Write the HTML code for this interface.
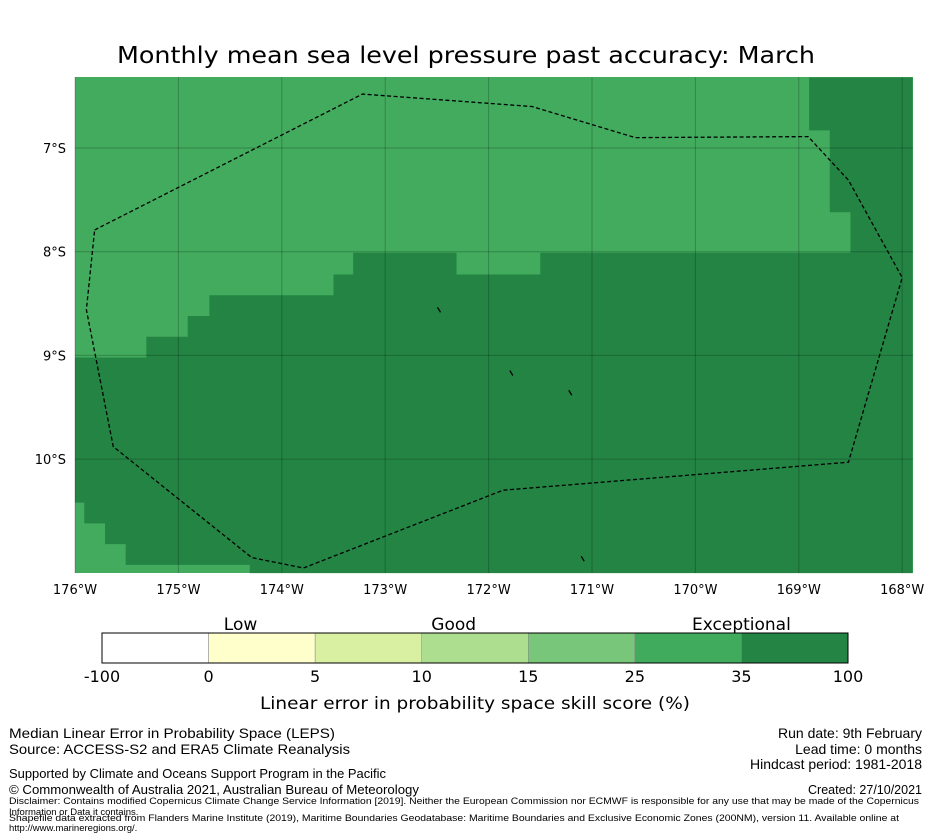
<!DOCTYPE html>
<html><head><meta charset="utf-8"><style>html,body{margin:0;padding:0;background:#fff}svg{display:block;font-family:"DejaVu Sans","Liberation Sans",sans-serif}</style></head>
<body>
<svg id="fig" width="931" height="839" viewBox="0 0 931 839" xmlns="http://www.w3.org/2000/svg">
<text x="466" y="63" text-anchor="middle" font-size="23" textLength="698" lengthAdjust="spacingAndGlyphs">Monthly mean sea level pressure past accuracy: March</text>
<g id="map"></g>
<g id="axes"></g>
<g id="cbar"></g>
<text x="475" y="709" text-anchor="middle" font-size="17" textLength="430" lengthAdjust="spacingAndGlyphs">Linear error in probability space skill score (%)</text>
<g font-family="Liberation Sans, sans-serif">
<text x="9" y="738" font-size="14" textLength="326" lengthAdjust="spacingAndGlyphs">Median Linear Error in Probability Space (LEPS)</text>
<text x="9" y="754" font-size="14" textLength="341" lengthAdjust="spacingAndGlyphs">Source: ACCESS-S2 and ERA5 Climate Reanalysis</text>
<text x="9" y="778" font-size="12.5" textLength="377" lengthAdjust="spacingAndGlyphs">Supported by Climate and Oceans Support Program in the Pacific</text>
<text x="9" y="794" font-size="12.5" textLength="410" lengthAdjust="spacingAndGlyphs">© Commonwealth of Australia 2021, Australian Bureau of Meteorology</text>
<text x="9" y="804" font-size="9.5" textLength="910" lengthAdjust="spacingAndGlyphs">Disclaimer: Contains modified Copernicus Climate Change Service Information [2019]. Neither the European Commission nor ECMWF is responsible for any use that may be made of the Copernicus</text>
<text x="9" y="815" font-size="9.5">Information or Data it contains.</text>
<text x="9" y="821" font-size="9.5" textLength="890" lengthAdjust="spacingAndGlyphs">Shapefile data extracted from Flanders Marine Institute (2019), Maritime Boundaries Geodatabase: Maritime Boundaries and Exclusive Economic Zones (200NM), version 11. Available online at</text>
<text x="9" y="831" font-size="9.5">http://www.marineregions.org/.</text>
<text x="922" y="738" font-size="14" text-anchor="end">Run date: 9th February</text>
<text x="922" y="754" font-size="14" text-anchor="end">Lead time: 0 months</text>
<text x="922" y="769" font-size="14" text-anchor="end">Hindcast period: 1981-2018</text>
<text x="922" y="794" font-size="12.5" text-anchor="end">Created: 27/10/2021</text>
</g>
</svg>
<script>
const lonTicks=[-176,-175,-174,-173,-172,-171,-170,-169,-168];
const latTicks=[-7,-8,-9,-10];
const darkLon=[-168.90,-167.90,-167.90,-174.31,-174.31,-175.51,-175.51,-175.71,-175.71,-175.91,-175.91,-176,-176,-175.31,-175.31,-174.91,-174.91,-174.70,-174.70,-173.50,-173.50,-173.31,-173.31,-172.31,-172.31,-171.50,-171.50,-168.50,-168.50,-168.70,-168.70,-168.90];
const darkLat=[-6.32,-6.32,-11.10,-11.10,-11.02,-11.02,-10.82,-10.82,-10.62,-10.62,-10.42,-10.42,-9.02,-9.02,-8.82,-8.82,-8.62,-8.62,-8.42,-8.42,-8.22,-8.22,-8.01,-8.01,-8.22,-8.22,-8.01,-8.01,-7.62,-7.62,-6.83,-6.83];
const eezLon=[-175.81,-173.22,-171.58,-170.58,-168.91,-168.52,-168.00,-168.52,-171.86,-173.79,-174.29,-175.63,-175.89];
const eezLat=[-7.79,-6.48,-6.60,-6.90,-6.89,-7.31,-8.25,-10.03,-10.30,-11.05,-10.95,-9.88,-8.56];
const islandLon=[-172.48,-171.78,-171.21,-171.09];
const islandLat=[-8.56,-9.17,-9.36,-10.96];
const cbarBounds=["-100","0","5","10","15","25","35","100"];
const cbarColors=["#ffffff","#ffffcc","#d9f0a3","#addd8e","#78c679","#41ab5d","#238443"];
const cbarCats=["Low","Good","Exceptional"];
const cbarCatPos=[1.3,3.3,6.0];

const NS="http://www.w3.org/2000/svg";
const X0=75,X1=913,Y0=77,Y1=573;
const lonMin=-176,pxLon=103.4,latTop=-7,pxLat=103.7;
const xs=l=>X0+(l-lonMin)*pxLon;
const ys=l=>148+(latTop-l)*pxLat;
function mk(t,a,p){const e=document.createElementNS(NS,t);for(const k in a)e.setAttribute(k,a[k]);p.appendChild(e);return e;}
const map=document.getElementById('map'),axes=document.getElementById('axes'),cb=document.getElementById('cbar');
let bg=mk('rect',{x:X0,y:Y0,width:X1-X0,height:Y1-Y0,fill:'#42ab5d'},map);


let dp=mk('polygon',{points:darkLon.map((l,i)=>xs(l)+','+ys(darkLat[i])).join(' '),fill:'#238443'},map);


lonTicks.forEach(l=>{const x=xs(l);
 let g=mk('line',{x1:x,x2:x,y1:Y0,y2:Y1,stroke:'rgba(0,0,0,0.22)','stroke-width':1},map);
 
 
 let t=mk('text',{x:x,y:594,'text-anchor':'middle','font-size':13},axes);t.textContent=Math.abs(l)+'°W';
 
 });
latTicks.forEach(l=>{const y=ys(l);
 let g=mk('line',{x1:X0,x2:X1,y1:y,y2:y,stroke:'rgba(0,0,0,0.22)','stroke-width':1},map);
 
 
 let t=mk('text',{x:66,y:y+5,'text-anchor':'end','font-size':13},axes);t.textContent=Math.abs(l)+'°S';
 
 });
let ez=mk('polygon',{points:eezLon.map((l,i)=>xs(l)+','+ys(eezLat[i])).join(' '),fill:'none',stroke:'#000','stroke-width':1.3,'stroke-dasharray':'4,2.5'},map);


islandLon.forEach((l,i)=>{const x=xs(l),y=ys(islandLat[i]);
 let s=mk('line',{x1:x-1.5,y1:y-2.5,x2:x+1.5,y2:y+2.5,stroke:'#000','stroke-width':1.3},map);
 
 });
// colorbar
const CX0=102,CX1=848,CY=633,CH=30,n=cbarColors.length,w=(CX1-CX0)/n;
cbarColors.forEach((c,i)=>{let r=mk('rect',{x:CX0+i*w,y:CY,width:w,height:CH,fill:c,stroke:'#888','stroke-width':0.5},cb);
 
 });
let fr=mk('rect',{x:CX0,y:CY,width:CX1-CX0,height:CH,fill:'none',stroke:'#000','stroke-width':1},cb);


cbarBounds.forEach((b,i)=>{let t=mk('text',{x:CX0+i*w,y:682,'text-anchor':'middle','font-size':16},cb);t.textContent=b;
 
 });
cbarCats.forEach((c,i)=>{let t=mk('text',{x:CX0+cbarCatPos[i]*w,y:630,'text-anchor':'middle','font-size':17},cb);t.textContent=c;
 
 });
</script>
</body></html>
